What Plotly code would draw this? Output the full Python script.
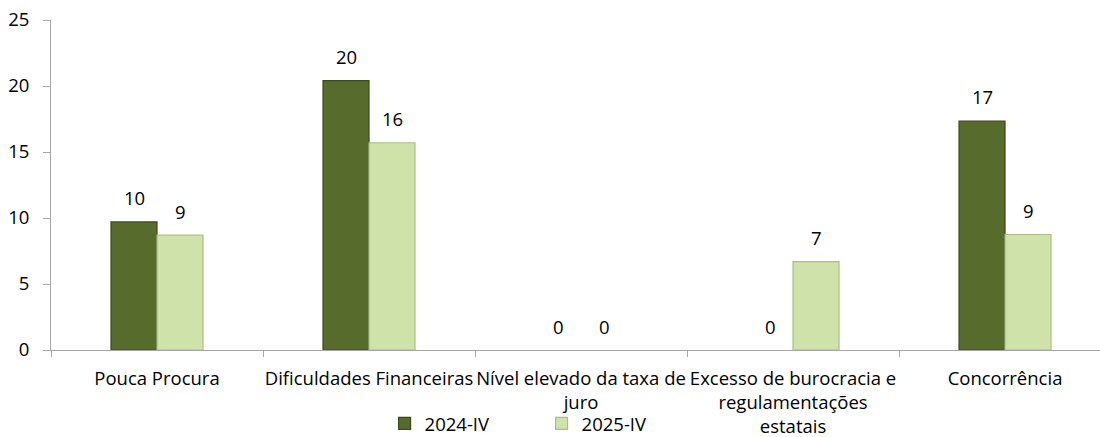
import plotly.graph_objects as go

categories = ["Pouca Procura", "Dificuldades Financeiras", "Nível elevado da taxa de<br>juro",
              "Excesso de burocracia e<br>regulamentações<br>estatais", "Concorrência"]
series_names = ["2024-IV", "2025-IV"]
values_2024 = [9.7, 20.4, 0, 0, 17.35]
values_2025 = [8.7, 15.7, 0, 6.7, 8.75]
y_ticks = [0, 5, 10, 15, 20, 25]

FONT = "Open Sans"
FS = 18.5
dark = "#576b2d"
light = "#cfe2a9"

def line_widths(vals):
    return [1.2 if v > 0 else 0 for v in vals]

fig = go.Figure()
fig.add_trace(go.Bar(x=categories, y=values_2024, name=series_names[0],
                     marker=dict(color=dark, line=dict(color="#3b4a1c", width=line_widths(values_2024)))))
fig.add_trace(go.Bar(x=categories, y=values_2025, name=series_names[1],
                     marker=dict(color=light, line=dict(color="#a9bf83", width=line_widths(values_2025)))))

for vals, shift in ((values_2024, -23), (values_2025, 23)):
    for c, v in zip(categories, vals):
        fig.add_annotation(x=c, y=v, text=f"{v:.0f}", showarrow=False,
                           xshift=shift, yshift=24, yanchor="middle",
                           font=dict(family=FONT, size=FS, color="#000"))

fig.update_layout(
    width=1100, height=437,
    margin=dict(l=51, r=0, t=20, b=87, autoexpand=False),
    plot_bgcolor="white", paper_bgcolor="white",
    barmode="group", bargap=0.566, bargroupgap=0,
    font=dict(family=FONT, size=FS, color="#000"),
    showlegend=True,
    legend=dict(orientation="h", x=0.318, xanchor="left", y=-0.224, yanchor="middle",
                font=dict(family=FONT, size=FS), entrywidth=112, entrywidthmode="pixels",
                itemwidth=30, bgcolor="rgba(0,0,0,0)", borderwidth=0),
    xaxis=dict(range=[-0.5, 4.448], showline=True, linecolor="#a6a6a6", linewidth=1,
               ticks="outside", tickson="boundaries", ticklen=6, tickcolor="#a6a6a6",
               showgrid=False, tickangle=0, ticklabelstandoff=12, automargin=False),
    yaxis=dict(range=[0, 25], tickvals=y_ticks, showline=True, linecolor="#a6a6a6",
               linewidth=1, ticks="outside", ticklen=7, tickcolor="#a6a6a6",
               showgrid=False, zeroline=False, ticklabelstandoff=10, automargin=False),
)

fig.write_html("out.html", config={"displayModeBar": False},
               post_script="document.body.style.margin='0';document.body.style.overflow='hidden';")
